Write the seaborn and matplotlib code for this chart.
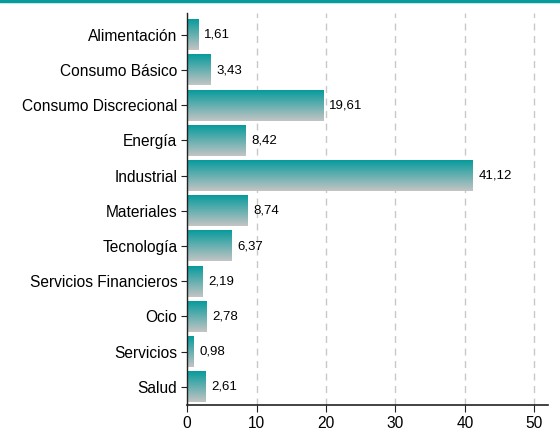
import numpy as np
import pandas as pd
import seaborn as sns
import matplotlib.pyplot as plt
from matplotlib.colors import LinearSegmentedColormap

sectores = ["Alimentación", "Consumo Básico", "Consumo Discrecional", "Energía",
            "Industrial", "Materiales", "Tecnología", "Servicios Financieros",
            "Ocio", "Servicios", "Salud"]
valores = [1.61, 3.43, 19.61, 8.42, 41.12, 8.74, 6.37, 2.19, 2.78, 0.98, 2.61]

df = pd.DataFrame({"sector": sectores, "valor": valores})

sns.set_style("white")
plt.rcParams["font.family"] = ["Liberation Sans", "DejaVu Sans"]
plt.rcParams["text.color"] = "black"

teal = "#079b9c"
cmap = LinearSegmentedColormap.from_list("tg", [teal, "#c4c4c4"])

fig = plt.figure(figsize=(5.6, 4.37), dpi=100)
ax = fig.add_axes([0.334, 0.073, 0.645, 0.897])

sns.barplot(data=df, x="valor", y="sector", ax=ax, color=teal, width=0.87,
            edgecolor="none")

# degradado vertical dentro de cada barra
grad = np.linspace(0, 1, 256).reshape(-1, 1)
for p in ax.patches:
    x0, y0 = p.get_x(), p.get_y()
    w, h = p.get_width(), p.get_height()
    p.set_visible(False)
    ax.imshow(grad, cmap=cmap, aspect="auto", extent=(x0, x0 + w, y0 + h, y0),
              zorder=2, interpolation="bilinear")

for i, v in enumerate(valores):
    ax.text(v + 0.85, i, f"{v:.2f}".replace(".", ","), va="center", ha="left",
            fontsize=9.5, color="black")

ax.set_xlim(0, 52)
ax.set_ylim(10.52, -0.62)
ax.set_xticks([0, 10, 20, 30, 40, 50])
ax.set_xlabel("")
ax.set_ylabel("")
ax.grid(axis="x", linestyle=(0, (5, 4)), color="#c8c8c8", linewidth=1)
ax.set_axisbelow(True)
for s in ["top", "right"]:
    ax.spines[s].set_visible(False)
ax.spines["left"].set_color("#222222")
ax.spines["bottom"].set_color("#222222")
ax.spines["left"].set_linewidth(1)
ax.spines["bottom"].set_linewidth(1.2)
ax.tick_params(axis="y", length=4, color="#222222", labelsize=11.2, pad=3,
               left=True, labelcolor="black")
ax.tick_params(axis="x", length=5, color="#222222", labelsize=11.2, pad=3,
               bottom=True, labelcolor="black")

# línea superior de color
fig.add_artist(plt.Line2D([0, 1], [0.997, 0.997], color=teal, linewidth=2.5,
                          transform=fig.transFigure))

fig.savefig("out.png", dpi=100)
